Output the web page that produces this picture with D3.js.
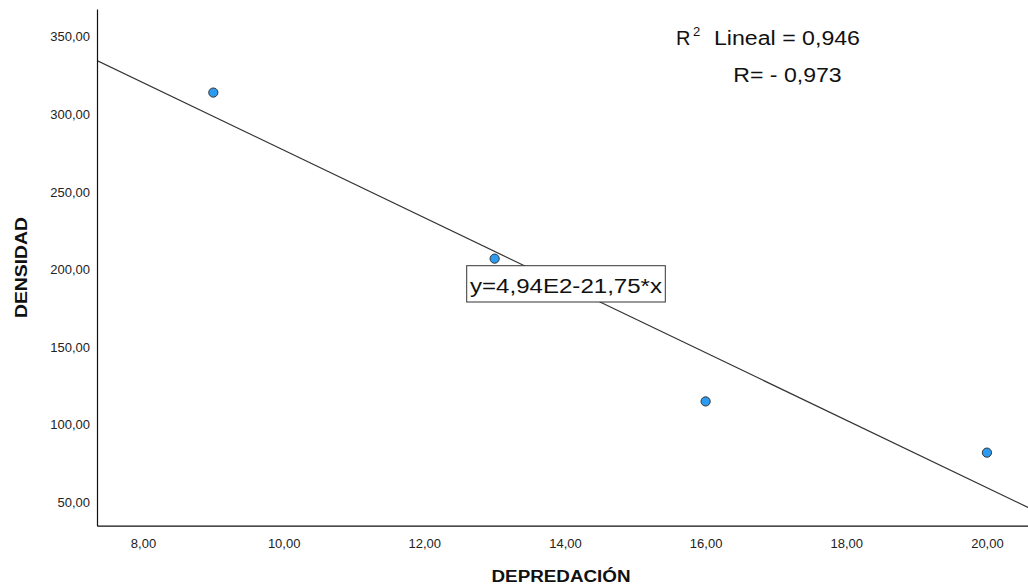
<!DOCTYPE html>
<html>
<head>
<meta charset="utf-8">
<script src="https://cdn.jsdelivr.net/npm/d3@7"></script>
<style>
  html, body { margin: 0; padding: 0; background: #fff; }
  svg { display: block; }
  text { font-family: "Liberation Sans", Arial, Helvetica, sans-serif; }
</style>
</head>
<body>
<svg id="chart" width="1028" height="586"></svg>
<script>
// Observations: predation (x) vs. density (y)
const depredacion = [9, 13, 16, 20];
const densidad = [314, 207, 115, 82];

// Fitted linear model y = a + b*x
const intercept = 494.4;
const slope = -21.75;
const r2 = "0,946";
const rValue = "- 0,973";
const equationLabel = "y=4,94E2-21,75*x";

// Axis ticks
const xTicks = [8, 10, 12, 14, 16, 18, 20];
const yTicks = [50, 100, 150, 200, 250, 300, 350];
const fmt = v => v.toFixed(2).replace(".", ",");

const svg = d3.select("#chart");
const W = 1028, H = 586;
const plotLeft = 97, plotTop = 9, plotBottom = 525.7, plotRight = 1028;

const x = d3.scaleLinear().domain([7.346, 20.584]).range([plotLeft, plotRight]);
const y = d3.scaleLinear().domain([34.92, 367.85]).range([plotBottom, plotTop]);

svg.append("rect").attr("width", W).attr("height", H).attr("fill", "#fff");

// Regression line, clipped to the plotting area
svg.append("clipPath").attr("id", "plotClip")
  .append("rect").attr("x", plotLeft).attr("y", plotTop)
  .attr("width", plotRight - plotLeft).attr("height", plotBottom - plotTop);

const [x0, x1] = x.domain();
svg.append("line")
  .attr("clip-path", "url(#plotClip)")
  .attr("x1", x(x0)).attr("y1", y(intercept + slope * x0))
  .attr("x2", x(x1)).attr("y2", y(intercept + slope * x1))
  .attr("stroke", "#333").attr("stroke-width", 1.2);

// Axes
const xAxis = d3.axisBottom(x).tickValues(xTicks).tickFormat(fmt).tickSize(0).tickPadding(13);
const yAxis = d3.axisLeft(y).tickValues(yTicks).tickFormat(fmt).tickSize(0).tickPadding(7);

const gx = svg.append("g").attr("transform", `translate(0,${plotBottom})`).call(xAxis);
const gy = svg.append("g").attr("transform", `translate(${plotLeft},0)`).call(yAxis);
[gx, gy].forEach(g => {
  g.select(".domain").attr("stroke", "#111").attr("stroke-width", 1.2);
  g.selectAll("text")
    .attr("font-size", 13)
    .attr("fill", "#222")
    .attr("font-family", "'Liberation Sans', Arial, sans-serif");
});

// Data points
svg.append("g").selectAll("circle")
  .data(depredacion.map((d, i) => [d, densidad[i]]))
  .join("circle")
  .attr("cx", d => x(d[0]))
  .attr("cy", d => y(d[1]))
  .attr("r", 4.6)
  .attr("fill", "#2b9cf2")
  .attr("stroke", "#333")
  .attr("stroke-width", 1);

// Equation label box
const eq = svg.append("g");
eq.append("rect")
  .attr("x", 466.7).attr("y", 265.7)
  .attr("width", 198.6).attr("height", 36.3)
  .attr("fill", "#fff").attr("stroke", "#333").attr("stroke-width", 1);
eq.append("text")
  .attr("x", 470).attr("y", 293.3)
  .attr("font-size", 20).attr("fill", "#111")
  .attr("textLength", 192).attr("lengthAdjust", "spacingAndGlyphs")
  .text(equationLabel);

// Fit statistics
svg.append("text")
  .attr("x", 676).attr("y", 45)
  .attr("font-size", 20).attr("fill", "#111")
  .text("R");
svg.append("text")
  .attr("x", 693).attr("y", 36)
  .attr("font-size", 13).attr("fill", "#111")
  .text("2");
svg.append("text")
  .attr("x", 714).attr("y", 45)
  .attr("font-size", 20).attr("fill", "#111")
  .attr("textLength", 146).attr("lengthAdjust", "spacingAndGlyphs")
  .text("Lineal = " + r2);
svg.append("text")
  .attr("x", 733.3).attr("y", 81.7)
  .attr("font-size", 20).attr("fill", "#111")
  .attr("textLength", 108.4).attr("lengthAdjust", "spacingAndGlyphs")
  .text("R= " + rValue);

// Axis titles
svg.append("text")
  .attr("x", 561).attr("y", 582)
  .attr("text-anchor", "middle")
  .attr("font-size", 16).attr("font-weight", "bold").attr("fill", "#111")
  .attr("textLength", 139).attr("lengthAdjust", "spacingAndGlyphs")
  .text("DEPREDACIÓN");
svg.append("text")
  .attr("transform", "translate(27.3,267.5) rotate(-90)")
  .attr("text-anchor", "middle")
  .attr("font-size", 16).attr("font-weight", "bold").attr("fill", "#111")
  .attr("textLength", 101).attr("lengthAdjust", "spacingAndGlyphs")
  .text("DENSIDAD");
</script>
</body>
</html>
